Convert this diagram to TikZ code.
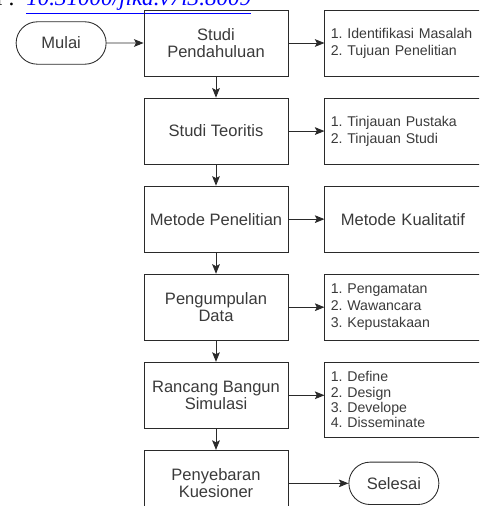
\documentclass[tikz,border=0pt]{standalone}
\usepackage{fontspec}
\setmainfont{Liberation Sans}
\newfontfamily\doifont{Liberation Serif}
\usepackage{xcolor}
\usepackage{tikz}
\usetikzlibrary{positioning, arrows.meta, shapes.misc}

\definecolor{linegray}{HTML}{2A2A2A}
\definecolor{textgray}{HTML}{3A3A3A}
\frenchspacing

\begin{document}
\begin{tikzpicture}[
    % Define styles for the nodes and text
    x=0.75pt, y=-0.75pt,
    node distance=15.9pt and 27pt,
    box/.style={draw=linegray, rectangle, line width=0.65pt, align=center, text=textgray, minimum width=108pt, minimum height=49.5pt, inner sep=2pt, font=\fontsize{12.4}{13}\selectfont},
    listbox/.style={draw=linegray, rectangle, line width=0.65pt, align=left, text=textgray, text width=108pt, minimum height=49.5pt, inner xsep=4.5pt, inner ysep=2pt, font=\fontsize{10.6}{12.9}\selectfont},
    terminal/.style={draw=linegray, rounded rectangle, line width=0.65pt, text=textgray, minimum width=71.5pt, minimum height=31.8pt, inner sep=2pt, font=\fontsize{12.4}{13}\selectfont},
    doilink/.style={text=blue, inner sep=0pt, font=\doifont\itshape\fontsize{17.3}{18}\selectfont},
    arrow/.style={-{Stealth[length=7.2pt, width=5.8pt, inset=1.5pt]}, line width=0.65pt, draw=linegray}
]
    \useasboundingbox (0,0) rectangle (479,506);
    \clip (0,0) rectangle (479,506);

    % Define the nodes
    \node[doilink, anchor=base west] (doi) at (26,6) {\underline{10.31000/jika.v7i3.8009}};
    \node[inner sep=0pt, anchor=base east, font=\doifont\fontsize{17.3}{18}\selectfont] (doilabel) at (15,6) {doi :};

    \node[box] (pendahuluan) at (216,43) {Studi\\Pendahuluan};
    \node[terminal, left=27.75pt of pendahuluan] (mulai) {Mulai};
    \node[listbox, right=of pendahuluan] (masalah) {1. Identifikasi Masalah\\2. Tujuan Penelitian};

    \node[box, below=of pendahuluan] (teoritis) {Studi Teoritis};
    \node[listbox, right=of teoritis] (pustaka) {1. Tinjauan Pustaka\\2. Tinjauan Studi};

    \node[box, below=of teoritis] (metode) {Metode Penelitian};
    \node[listbox, right=of metode, align=center, font=\fontsize{12.4}{13}\selectfont] (kualitatif) {Metode Kualitatif};

    \node[box, below=of metode] (pengumpulan) {Pengumpulan\\Data};
    \node[listbox, right=of pengumpulan] (teknik) {1. Pengamatan\\2. Wawancara\\3. Kepustakaan};

    \node[box, below=of pengumpulan] (rancang) {Rancang Bangun\\Simulasi};
    \node[listbox, right=of rancang.north east, anchor=north west, minimum height=56.25pt, font=\fontsize{10.6}{11.5}\selectfont] (model) {1. Define\\2. Design\\3. Develope\\4. Disseminate};

    \node[box, below=of rancang] (penyebaran) {Penyebaran\\Kuesioner};
    \node[terminal, right=45pt of penyebaran] (selesai) {Selesai};

    % Draw the arrows
    \draw[arrow] (mulai) -- (pendahuluan);
    \draw[arrow] (pendahuluan) -- (masalah);
    \draw[arrow] (pendahuluan) -- (teoritis);

    \draw[arrow] (teoritis) -- (pustaka);
    \draw[arrow] (teoritis) -- (metode);

    \draw[arrow] (metode) -- (kualitatif);
    \draw[arrow] (metode) -- (pengumpulan);

    \draw[arrow] (pengumpulan) -- (teknik);
    \draw[arrow] (pengumpulan) -- (rancang);

    \draw[arrow] (rancang.east) -- (rancang.east -| model.west);
    \draw[arrow] (rancang) -- (penyebaran);

    \draw[arrow] (penyebaran) -- (selesai);
  \end{tikzpicture}
\end{document}
